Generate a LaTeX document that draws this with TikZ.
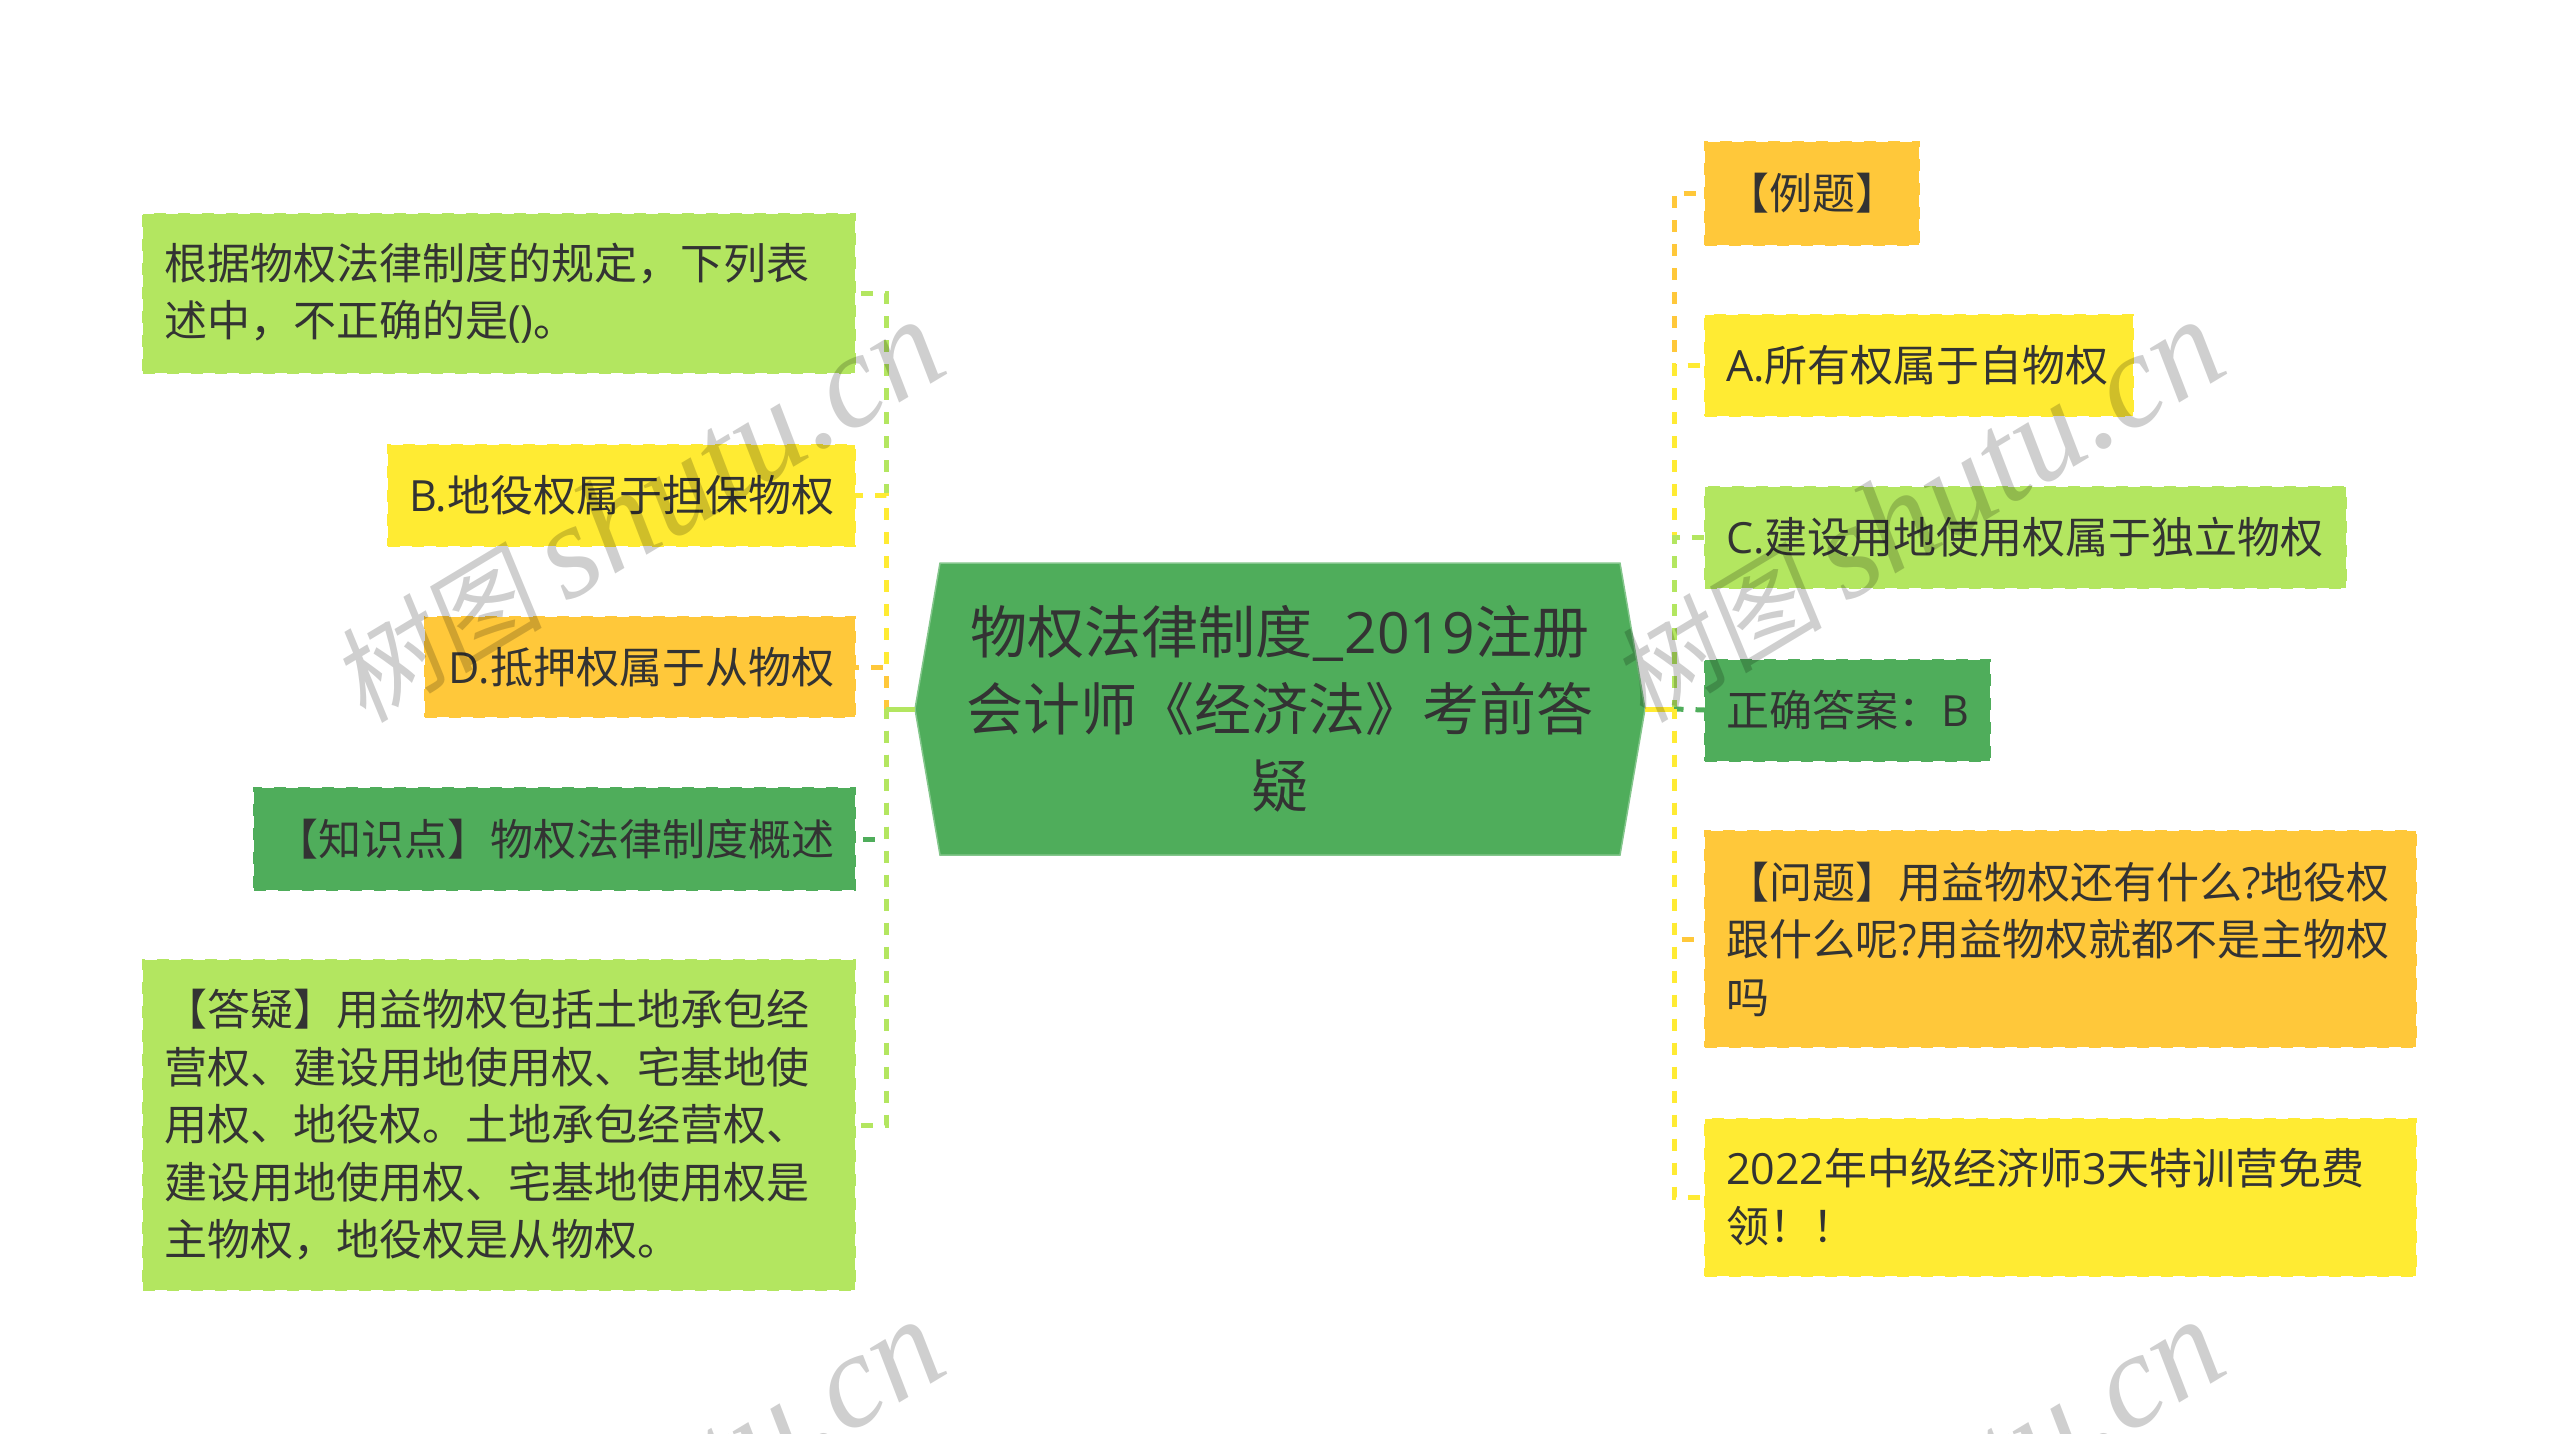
\documentclass[tikz,border=0pt]{standalone}
\usepackage{fontspec}
\setmainfont{Noto Sans CJK SC}
\newfontfamily\latfont{Open Sans}
\newfontfamily\markfont{Liberation Serif}
\newfontfamily\markcjk[FakeSlant=0.15]{Noto Sans CJK SC}
\definecolor{leafyellow}{HTML}{FFEB33}
\definecolor{leaforange}{HTML}{FFC83A}
\definecolor{leaflime}{HTML}{B3E660}
\definecolor{leafgreen}{HTML}{4FAD5B}
\definecolor{inktext}{HTML}{333333}
\tikzset{
    leaf/.style={draw=#1, fill=#1, dashed, dash pattern=on 12pt off 12pt, line width=2pt, text=inktext,
        outer sep=0pt, inner xsep=21pt, inner ysep=0pt, font=\fontsize{43}{57.5}\selectfont},
    leftleaf/.style={leaf=#1, anchor=east, align=right},
    rightleaf/.style={leaf=#1, anchor=west, align=left},
    trunk/.style={draw=#1, line width=5pt, dash pattern=on 12pt off 12pt, dash phase=2.5pt},
    stem/.style={draw=#1, line width=5pt},
    wmark/.style={black, opacity=0.19, rotate=31}
}
\begin{document}
\begin{tikzpicture}[x=1pt, y=-1pt]
    \useasboundingbox (0,0) rectangle (2560,1433);
    \clip (0,0) rectangle (2560,1433);

    % Center
    \filldraw[draw=leafgreen!70!white, fill=leafgreen, line width=1.5pt] (940,563) -- (1620,563) -- (1645,709) -- (1620,855) -- (940,855) -- (915,709) -- cycle;
    \node[align=center, text=inktext, font=\fontsize{57}{77}\selectfont] (root) at (1280,709)
        {物权法律制度\_{\latfont 2019}注册\\会计师《经济法》考前答\\疑};
    \coordinate (rootL) at (915,709);
    \coordinate (rootR) at (1645,709);
    \coordinate (trunkL) at (886,709);
    \coordinate (trunkR) at (1674,709);

    % Left side
    \node[leftleaf=leaflime, text width=670pt, align=left, minimum height=159pt] (qstem) at (855,293)
        {根据物权法律制度的规定，下列表\\述中，不正确的是{\latfont ()}。};
    \node[leftleaf=leafyellow, text width=425pt, minimum height=101pt] (optB) at (855,495)
        {{\latfont B.}地役权属于担保物权};
    \node[leftleaf=leaforange, text width=388pt, minimum height=100pt] (optD) at (855,667)
        {{\latfont D.}抵押权属于从物权};
    \node[leftleaf=leafgreen, text width=559pt, minimum height=102pt] (topic) at (855,839)
        {【知识点】物权法律制度概述};
    \node[leftleaf=leaflime, text width=670pt, align=left, minimum height=330pt] (reply) at (855,1125)
        {【答疑】用益物权包括土地承包经\\营权、建设用地使用权、宅基地使\\用权、地役权。土地承包经营权、\\建设用地使用权、宅基地使用权是\\主物权，地役权是从物权。};

    % Right side
    \node[rightleaf=leaforange, text width=172pt, minimum height=103pt] (example) at (1705,193)
        {【例题】};
    \node[rightleaf=leafyellow, text width=386pt, minimum height=101pt] (optA) at (1705,365)
        {{\latfont A.}所有权属于自物权};
    \node[rightleaf=leaflime, text width=599pt, minimum height=101pt] (optC) at (1705,537)
        {{\latfont C.}建设用地使用权属于独立物权};
    \node[rightleaf=leafgreen, text width=243pt, minimum height=101pt] (answer) at (1705,710)
        {正确答案：{\latfont B}};
    \node[rightleaf=leaforange, text width=669pt, minimum height=216pt] (question) at (1705,939)
        {【问题】用益物权还有什么{\latfont ?}地役权\\跟什么呢{\latfont ?}用益物权就都不是主物权\\吗};
    \node[rightleaf=leafyellow, text width=669pt, minimum height=157pt] (promo) at (1705,1197)
        {{\latfont 2022}年中级经济师{\latfont 3}天特训营免费\\领！！};

    % Left connectors
    \draw[trunk=leaflime] (trunkL) |- (qstem.east);
    \draw[trunk=leafyellow] (trunkL) |- (optB.east);
    \draw[trunk=leaforange] (trunkL) |- (optD.east);
    \draw[trunk=leafgreen] (trunkL) |- (topic.east);
    \draw[trunk=leaflime] (trunkL) |- (reply.east);
    \draw[stem=leaflime] (rootL) -- (trunkL);

    % Right connectors
    \draw[trunk=leaforange] (trunkR) |- (example.west);
    \draw[trunk=leafyellow] (trunkR) |- (optA.west);
    \draw[trunk=leaflime] (trunkR) |- (optC.west);
    \draw[trunk=leafgreen] (trunkR) -- (answer.west);
    \draw[trunk=leaforange] (trunkR) |- (question.west);
    \draw[trunk=leafyellow] (trunkR) |- (promo.west);
    \draw[stem=leafyellow] (rootR) -- (trunkR);

    % Watermarks
    \foreach \mx/\my in {0/0, 1280/0, 0/1000, 1280/1000} {
        \node[wmark] (mark\mx\my) at (637+\mx,512+\my)
            {{\markcjk\fontsize{106}{106}\selectfont 树图}\hspace{24pt}{\markfont\itshape\fontsize{134}{134}\selectfont shutu.cn}};
    }
\end{tikzpicture}
\end{document}
